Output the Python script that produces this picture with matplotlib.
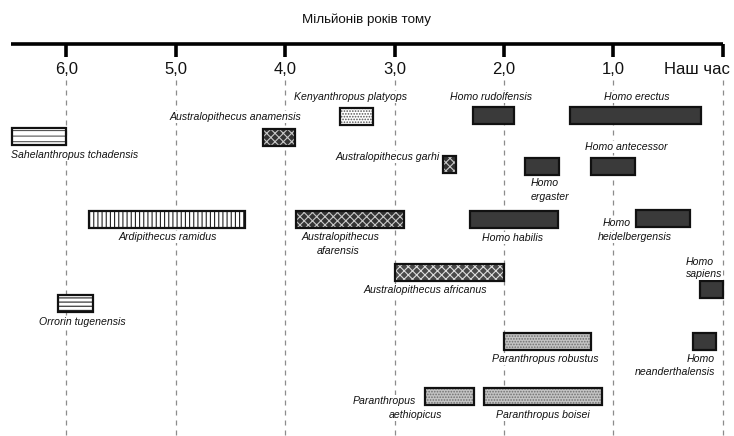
import matplotlib
matplotlib.use("Agg")
import matplotlib.pyplot as plt

plt.rcParams['font.family'] = ['Liberation Sans', 'DejaVu Sans']
plt.rcParams['hatch.linewidth'] = 0.8

# ---------------- data ----------------
title = "Мільйонів років тому"
tick_values = [6.0, 5.0, 4.0, 3.0, 2.0, 1.0, 0.0]
tick_labels = ["6,0", "5,0", "4,0", "3,0", "2,0", "1,0", "Наш час"]

species = [
    "Sahelanthropus tchadensis", "Orrorin tugenensis", "Ardipithecus ramidus",
    "Australopithecus anamensis", "Kenyanthropus platyops", "Australopithecus afarensis",
    "Australopithecus africanus", "Australopithecus garhi", "Paranthropus aethiopicus",
    "Paranthropus boisei", "Paranthropus robustus", "Homo rudolfensis",
    "Homo habilis", "Homo ergaster", "Homo erectus", "Homo antecessor",
    "Homo heidelbergensis", "Homo neanderthalensis", "Homo sapiens",
]
start_mya = [6.50, 6.08, 5.79, 4.20, 3.50, 3.90, 3.00, 2.56, 2.72, 2.18, 2.00, 2.28,
             2.31, 1.81, 1.40, 1.20, 0.79, 0.27, 0.21]
end_mya = [6.00, 5.76, 4.37, 3.91, 3.20, 2.91, 2.00, 2.44, 2.27, 1.10, 1.20, 1.91,
           1.51, 1.50, 0.20, 0.80, 0.30, 0.06, 0.00]
group = ["sahel", "orrorin", "ardi", "australo", "kenya", "australo",
         "africanus", "australo", "paran", "paran", "paran", "homo",
         "homo", "homo", "homo", "homo", "homo", "homo", "homo"]

# ---------------- layout (pixels) ----------------
W, H = 734, 436
row_y = [136.5, 303, 219, 137.5, 116, 219, 272.5, 164.5, 396.5, 396.5, 341.5, 115.5,
         219, 166, 115.5, 166.5, 218.5, 341.5, 289.5]
bar_h = 17
# label lines: list of (text, x_px, y_px, ha) for each species
labels = [
    [("Sahelanthropus tchadensis", 11, 155, "left")],
    [("Orrorin tugenensis", 82, 322, "center")],
    [("Ardipithecus ramidus", 168, 237, "center")],
    [("Australopithecus anamensis", 235, 117, "center")],
    [("Kenyanthropus platyops", 350, 97, "center")],
    [("Australopithecus", 340, 237, "center"), ("afarensis", 338, 251, "center")],
    [("Australopithecus africanus", 425, 290, "center")],
    [("Australopithecus garhi", 440, 157, "right")],
    [("Paranthropus", 416, 401, "right"), ("aethiopicus", 415, 415, "center")],
    [("Paranthropus boisei", 543, 415, "center")],
    [("Paranthropus robustus", 545, 359, "center")],
    [("Homo rudolfensis", 491, 97, "center")],
    [("Homo habilis", 512, 238, "center")],
    [("Homo", 531, 183, "left"), ("ergaster", 531, 197, "left")],
    [("Homo erectus", 637, 97, "center")],
    [("Homo antecessor", 626, 147, "center")],
    [("Homo", 603, 223, "left"), ("heidelbergensis", 598, 237, "left")],
    [("Homo", 715, 359, "right"), ("neanderthalensis", 715, 372, "right")],
    [("Homo", 700, 262, "center"), ("sapiens", 704, 274, "center")],
]

styles = {
    "sahel":     dict(fc="white",   hc="#555555", hatch="---"),
    "orrorin":   dict(fc="white",   hc="#222222", hatch="----"),
    "ardi":      dict(fc="white",   hc="#222222", hatch="||||"),
    "kenya":     dict(fc="white",   hc="#555555", hatch="......"),
    "australo":  dict(fc="#333333", hc="#c8c8c8", hatch="xxxx"),
    "africanus": dict(fc="#4a4a4a", hc="#dddddd", hatch="xxxx"),
    "paran":     dict(fc="#c4c4c4", hc="#707070", hatch="......"),
    "homo":      dict(fc="#3a3a3a", hc=None, hatch=None),
}

# pixel -> time conversion for the axis frame
x0_px, px_per_my = 722.7, 109.4
t_left = x0_px / px_per_my
t_right = (x0_px - W) / px_per_my

fig = plt.figure(figsize=(W / 100, H / 100), dpi=100)
ax = fig.add_axes([0, 0, 1, 1])
ax.set_xlim(t_left, t_right)
ax.set_ylim(H, 0)
ax.axis("off")

overlay = fig.add_axes([0, 0, 1, 1], facecolor="none")
overlay.set_xlim(0, W)
overlay.set_ylim(H, 0)
overlay.axis("off")

# axis line and ticks
axis_y = 44
ax.plot([6.51, 0], [axis_y, axis_y], color="black", lw=2.6, solid_capstyle="butt", zorder=5)
for tv, tl in zip(tick_values, tick_labels):
    ax.plot([tv, tv], [axis_y, 57], color="black", lw=2.6, solid_capstyle="butt", zorder=5)
    if tv == 0.0:
        overlay.text(730, 69, tl, ha="right", va="center", fontsize=12, color="#111111")
    else:
        ax.text(tv, 69, tl, ha="center", va="center", fontsize=12, color="#111111")
    ax.plot([tv, tv], [80, H], color="#8c8c8c", lw=0.9, ls=(0, (4, 4)), zorder=1)

overlay.text(367, 20, title, ha="center", va="center", fontsize=9.6, color="#111111")

# bars
for name, s, e, g, y in zip(species, start_mya, end_mya, group, row_y):
    st = styles[g]
    if st["hatch"]:
        ax.barh(y, e - s, left=s, height=bar_h, color=st["fc"], edgecolor=st["hc"],
                hatch=st["hatch"], linewidth=0, zorder=3)
        ax.barh(y, e - s, left=s, height=bar_h, facecolor="none", edgecolor="#111111",
                linewidth=1.6, zorder=4)
    else:
        ax.barh(y, e - s, left=s, height=bar_h, color=st["fc"], edgecolor="#111111",
                linewidth=1.6, zorder=4)

# labels
for lines in labels:
    for txt, xp, yp, ha in lines:
        overlay.text(xp, yp, txt, ha=ha, va="center", fontsize=7.6, style="italic",
                     color="#111111", zorder=6,
                     bbox=dict(facecolor="white", edgecolor="none", pad=0.8))

fig.savefig("out.png", dpi=100)
